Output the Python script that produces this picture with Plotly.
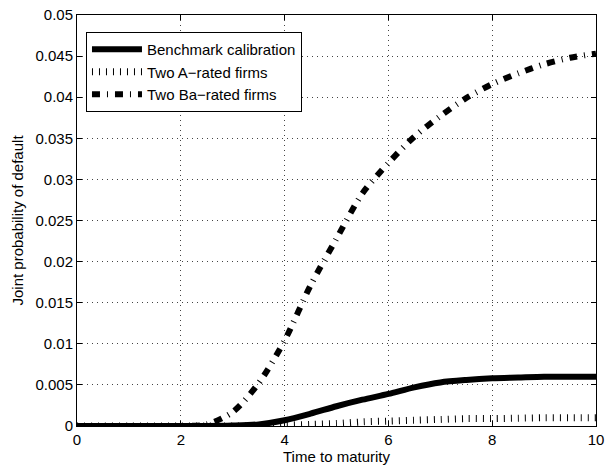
import plotly.graph_objects as go

# Time to maturity
t = [0, 0.5, 1, 1.5, 2, 2.5, 3, 3.5, 4, 4.5, 5, 5.5, 6, 6.5, 7, 7.5, 8, 8.5, 9, 9.5, 10]

benchmark = [0, 0, 0, 0, 0, 0, 0.00005, 0.0002, 0.0007, 0.0015, 0.0024, 0.0032, 0.0039,
             0.0047, 0.0053, 0.0056, 0.0058, 0.0059, 0.006, 0.006, 0.006]
a_rated = [0, 0, 0, 0, 0, 0, 0, 0.00003, 0.0001, 0.0002, 0.0003, 0.0005, 0.0006,
           0.0007, 0.0008, 0.0009, 0.0009, 0.00095, 0.001, 0.001, 0.001]
ba_rated = [0, 0, 0, 0, 0, 0.0002, 0.0017, 0.0052, 0.0104, 0.0171, 0.0228, 0.0283, 0.032,
            0.0352, 0.0377, 0.0399, 0.0416, 0.0429, 0.0440, 0.0448, 0.0453]

series_names = ["Benchmark calibration", "Two A\u2212rated firms", "Two Ba\u2212rated firms"]

x_ticks = [0, 2, 4, 6, 8, 10]
y_ticks = [0, 0.005, 0.01, 0.015, 0.02, 0.025, 0.03, 0.035, 0.04, 0.045, 0.05]
y_tick_labels = ["0", "0.005", "0.01", "0.015", "0.02", "0.025", "0.03", "0.035", "0.04", "0.045", "0.05"]

FONT = "Liberation Sans, Arial, Helvetica, sans-serif"

fig = go.Figure()
fig.add_trace(go.Scatter(x=t, y=benchmark, mode="lines", name=series_names[0],
                         line=dict(color="black", width=6, shape="spline", smoothing=0.8)))
fig.add_trace(go.Scatter(x=t, y=a_rated, mode="lines", name=series_names[1],
                         line=dict(color="black", width=7, dash="1px,6px", shape="spline", smoothing=0.8)))
fig.add_trace(go.Scatter(x=t, y=ba_rated, mode="lines", name=series_names[2],
                         line=dict(color="black", width=6, dash="8px,7px,1px,7px", shape="spline", smoothing=0.8)))

axis_common = dict(
    showline=True, linecolor="black", linewidth=1, mirror="allticks",
    ticks="inside", ticklen=5, tickcolor="black", tickwidth=1,
    showgrid=True, gridcolor="#444", gridwidth=1, griddash="1px,4px",
    zeroline=False, automargin=False,
    tickfont=dict(family=FONT, size=15, color="black"),
)

fig.update_xaxes(range=[0, 10], tickvals=x_ticks, ticktext=[str(v) for v in x_ticks],
                 title=dict(text="Time to maturity", font=dict(family=FONT, size=15, color="black"),
                            standoff=4),
                 **axis_common)
fig.update_yaxes(range=[0, 0.05], tickvals=y_ticks, ticktext=y_tick_labels,
                 title=dict(text="Joint probability of default", font=dict(family=FONT, size=15, color="black"),
                            standoff=8),
                 **axis_common)

fig.update_layout(
    width=605, height=466,
    margin=dict(l=77, r=9, t=15, b=40),
    paper_bgcolor="white", plot_bgcolor="white",
    font=dict(family=FONT, size=15, color="black"),
    showlegend=True,
    legend=dict(x=0.0173, y=0.9586, xanchor="left", yanchor="top",
                bgcolor="white", bordercolor="black", borderwidth=1,
                font=dict(family=FONT, size=15, color="black"),
                itemwidth=50, tracegroupgap=0),
)

fig.write_html("out.html")
